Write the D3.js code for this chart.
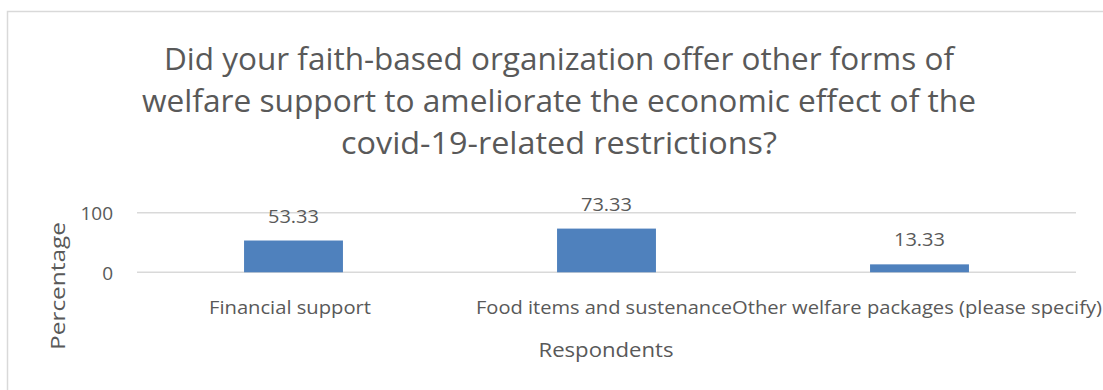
<!DOCTYPE html>
<html>
<head>
<meta charset="utf-8">
<script src="https://cdn.jsdelivr.net/npm/d3@7"></script>
<style>
  html, body { margin: 0; padding: 0; background: #fff; }
  svg { display: block; }
  text { font-family: "Open Sans", "Liberation Sans", sans-serif; fill: #595959; }
</style>
</head>
<body>
<svg id="chart" width="1103" height="390"></svg>
<script>
// Chart data
const categories = ["Financial support", "Food items and sustenance", "Other welfare packages (please specify)"];
const values = [53.33, 73.33, 13.33];
const yTicks = [0, 100];
const titleLines = [
  "Did your faith-based organization offer other forms of",
  "welfare support to ameliorate the economic effect of the",
  "covid-19-related restrictions?"
];
const yAxisTitle = "Percentage";
const xAxisTitle = "Respondents";

const svg = d3.select("#chart");

// Chart area frame (runs past the right and bottom edges)
svg.append("rect")
  .attr("x", 7.5).attr("y", 11.5)
  .attr("width", 1200).attr("height", 500)
  .attr("fill", "none").attr("stroke", "#d9d9d9").attr("stroke-width", 1.5);

const plot = { left: 137, right: 1076, top: 212.7, bottom: 272.3 };

const x = d3.scaleBand()
  .domain(categories)
  .range([plot.left, plot.right])
  .paddingInner(0.684)
  .paddingOuter(0.342);

const y = d3.scaleLinear()
  .domain([0, 100])
  .range([plot.bottom, plot.top]);

// Title
const titleWidths = [790, 834, 436];
svg.append("g").selectAll("text")
  .data(titleLines)
  .join("text")
  .attr("x", 559)
  .attr("y", (d, i) => 70 + i * 42)
  .attr("text-anchor", "middle")
  .attr("font-size", 31)
  .attr("textLength", (d, i) => titleWidths[i])
  .attr("lengthAdjust", "spacingAndGlyphs")
  .text(d => d);

// Gridlines
svg.append("g").selectAll("line")
  .data(yTicks)
  .join("line")
  .attr("x1", plot.left).attr("x2", plot.right)
  .attr("y1", d => y(d)).attr("y2", d => y(d))
  .attr("stroke", "#d9d9d9").attr("stroke-width", 1.5);

// Y axis tick labels
const yAxis = d3.axisLeft(y).tickValues(yTicks).tickSize(0).tickPadding(0);
const yg = svg.append("g")
  .attr("transform", `translate(${plot.left - 24},0)`)
  .call(yAxis);
yg.select(".domain").remove();
yg.selectAll("text")
  .attr("font-size", 19)
  .attr("font-family", null)
  .attr("fill", "#595959")
  .attr("dy", "0.36em");

// Bars
svg.append("g").selectAll("rect")
  .data(values)
  .join("rect")
  .attr("x", (d, i) => x(categories[i]))
  .attr("width", x.bandwidth())
  .attr("y", d => y(d))
  .attr("height", d => y(0) - y(d))
  .attr("fill", "#4f81bd");

// Value labels
svg.append("g").selectAll("text")
  .data(values)
  .join("text")
  .attr("x", (d, i) => x(categories[i]) + x.bandwidth() / 2)
  .attr("y", d => y(d) - 18)
  .attr("text-anchor", "middle")
  .attr("font-size", 18)
  .attr("textLength", 51)
  .attr("lengthAdjust", "spacingAndGlyphs")
  .text(d => d.toFixed(2));

// Category labels
const catWidths = [162, 256, 370];
const xAxis = d3.axisBottom(x).tickSize(0).tickPadding(0);
const xg = svg.append("g")
  .attr("transform", `translate(0,${plot.bottom})`)
  .call(xAxis);
xg.select(".domain").remove();
xg.selectAll("text")
  .attr("font-size", 18.5)
  .attr("font-family", null)
  .attr("fill", "#595959")
  .attr("dy", null)
  .attr("y", 314 - plot.bottom)
  .attr("textLength", (d, i) => catWidths[i])
  .attr("lengthAdjust", "spacingAndGlyphs");
// shift labels slightly to their drawn centres
const catCentres = [290, 604, 917];
xg.selectAll(".tick").attr("transform", (d, i) => `translate(${catCentres[i]},0)`);

// Axis titles
svg.append("text")
  .attr("x", 606).attr("y", 357)
  .attr("text-anchor", "middle")
  .attr("font-size", 20)
  .attr("textLength", 135)
  .attr("lengthAdjust", "spacingAndGlyphs")
  .text(xAxisTitle);

svg.append("text")
  .attr("transform", "translate(65,286) rotate(-90)")
  .attr("text-anchor", "middle")
  .attr("font-size", 20)
  .attr("textLength", 128)
  .attr("lengthAdjust", "spacingAndGlyphs")
  .text(yAxisTitle);
</script>
</body>
</html>
